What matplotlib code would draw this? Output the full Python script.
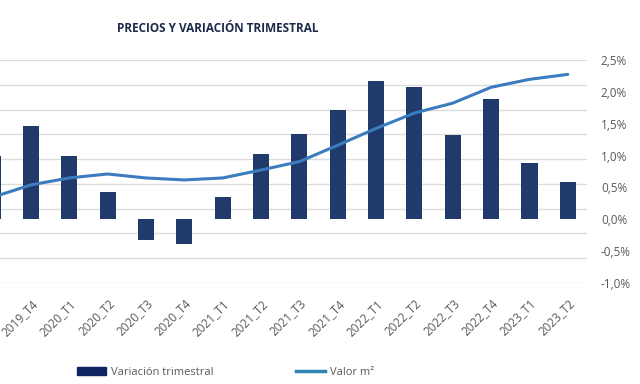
import matplotlib.pyplot as plt
from matplotlib.patches import Patch
from matplotlib.lines import Line2D
import numpy as np

# quarters (first one is cut off at the left edge of the picture)
quarters = ['2019_T3', '2019_T4', '2020_T1', '2020_T2', '2020_T3', '2020_T4',
            '2021_T1', '2021_T2', '2021_T3', '2021_T4', '2022_T1', '2022_T2',
            '2022_T3', '2022_T4', '2023_T1', '2023_T2']
# quarterly change, %
variacion = [0.99, 1.47, 1.00, 0.43, -0.33, -0.39, 0.35, 1.03, 1.34, 1.71,
             2.17, 2.08, 1.33, 1.89, 0.89, 0.58]
# price per m2 (left axis, out of the picture)
valor_m2 = [1573, 1598, 1612, 1620, 1612, 1608, 1612, 1628, 1645, 1678,
            1712, 1743, 1763, 1795, 1811, 1821]
pct_ticks = [-1.0, -0.5, 0.0, 0.5, 1.0, 1.5, 2.0, 2.5]

bar_col = '#1f3a6b'
line_col = '#3b7cbf'
grey = '#595959'

fig = plt.figure(figsize=(6.4, 3.84), dpi=100)
# axes deliberately starts left of the figure edge, like the cropped original
ax1 = fig.add_axes([-0.0416, 0.263, 0.9588, 0.5807])
ax2 = ax1.twinx()
x = np.arange(len(quarters))

ax1.bar(x, variacion, width=0.42, color=bar_col, zorder=2)
ax1.set_ylim(-1.0, 2.5)
ax1.set_xlim(-0.5, len(quarters) - 0.5)
ax1.yaxis.tick_right()
ax1.yaxis.set_label_position('right')
ax1.set_yticks(pct_ticks)
ax1.set_yticklabels([('%.1f%%' % v).replace('.', ',') for v in pct_ticks],
                    color=grey, fontsize=8.5, fontfamily='Open Sans')
# gridlines follow the (hidden) price axis, 9 steps
ax1.yaxis.remove_overlapping_locs = False
ax1.set_yticks(np.linspace(-1.0, 2.5, 10), minor=True)
ax1.grid(which='minor', axis='y', color='#dcdcdc', lw=1, zorder=0)
ax1.tick_params(axis='y', which='both', length=0, pad=10)
ax1.set_xticks(x)
ax1.set_xticklabels(quarters, rotation=45, ha='right', rotation_mode='anchor',
                    color=grey, fontsize=8.5, fontfamily='Open Sans')
ax1.tick_params(axis='x', length=0, pad=10)
for s in ax1.spines.values():
    s.set_visible(False)
ax1.set_axisbelow(True)

ax2.plot(x, valor_m2, color=line_col, lw=2.2, solid_capstyle='round')
ax2.set_ylim(1400, 1850)
ax2.set_yticks([])
for s in ax2.spines.values():
    s.set_visible(False)

fig.text(0.34, 0.925, 'PRECIOS Y VARIACIÓN TRIMESTRAL', ha='center', va='center',
         fontsize=8.5, fontweight='bold', color='#1b2a4a', fontfamily='Open Sans')

handles = [Patch(color='#0f2460'), Line2D([], [], color='#2f86b5', lw=2.5)]
fig.legend(handles, ['Variación trimestral', 'Valor m²'], loc='center left',
           bbox_to_anchor=(0.105, 0.03), ncol=2, frameon=False,
           handlelength=2.6, handleheight=0.8, handletextpad=0.4,
           columnspacing=7.5, labelcolor=grey, prop={'family': 'Open Sans', 'size': 8})

fig.savefig('out.png', dpi=100)
